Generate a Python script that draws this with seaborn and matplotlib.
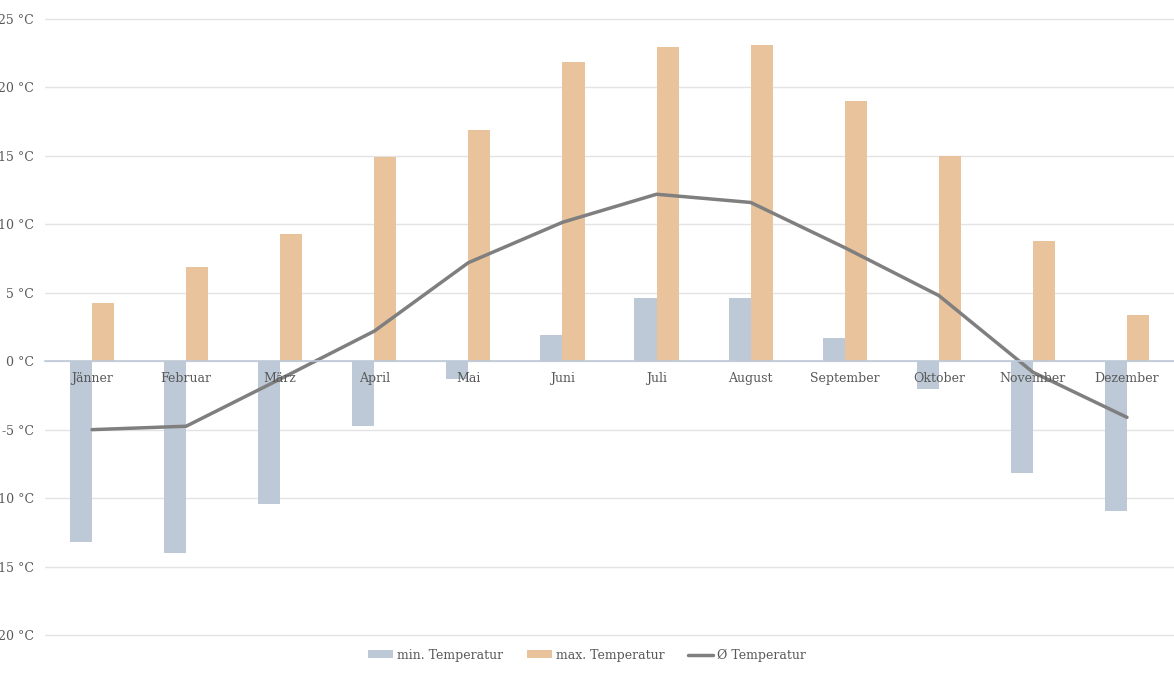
import numpy as np
import pandas as pd
import matplotlib
matplotlib.use("Agg")
import matplotlib.pyplot as plt
import seaborn as sns
from matplotlib.patches import Patch
from matplotlib.lines import Line2D

months = ["Jänner", "Februar", "März", "April", "Mai", "Juni", "Juli",
          "August", "September", "Oktober", "November", "Dezember"]
min_temp = [-13.2, -14.0, -10.45, -4.7, -1.3, 1.9, 4.6, 4.6, 1.7, -2.0, -8.2, -10.95]
max_temp = [4.25, 6.9, 9.3, 14.9, 16.9, 21.85, 22.95, 23.1, 19.0, 15.0, 8.8, 3.4]
avg_temp = [-5.0, -4.75, -1.3, 2.2, 7.2, 10.15, 12.2, 11.6, 8.3, 4.8, -0.8, -4.1]
yticks = [-20, -15, -10, -5, 0, 5, 10, 15, 20, 25]
series_names = ["min. Temperatur", "max. Temperatur", "Ø Temperatur"]

c_min = "#BDC9D7"
c_max = "#E9C39C"
c_avg = "#7F7F7F"
txt = "#595959"

sns.set_theme(style="white")
plt.rcParams["font.family"] = ["DejaVu Serif", "DejaVu Sans"]

df = pd.DataFrame({
    "Monat": months * 2,
    "Wert": min_temp + max_temp,
    "Serie": [series_names[0]] * 12 + [series_names[1]] * 12,
})

fig = plt.figure(figsize=(11.74, 6.75), dpi=100)
ax = fig.add_axes([45 / 1174, 38 / 675, 1 - 45 / 1174, (637 - 17) / 675])

sns.barplot(data=df, x="Monat", y="Wert", hue="Serie", order=months,
            hue_order=series_names[:2], palette=[c_min, c_max],
            width=0.47, gap=0, dodge=True, saturation=1, ax=ax,
            legend=False, linewidth=0, err_kws={"linewidth": 0})
sns.lineplot(x=np.arange(len(months)), y=avg_temp, color=c_avg,
             linewidth=2.5, ax=ax, legend=False)

ax.set_xlim(-0.5, 11.5)
ax.set_ylim(-20.15, 25.15)
ax.set_yticks(yticks)
ax.set_yticklabels([f"{v} °C" for v in yticks], color=txt, fontsize=9)
ax.yaxis.grid(True, color="#E3E3E3", linewidth=1)
ax.set_axisbelow(True)
ax.xaxis.set_zorder(5)
ax.tick_params(axis="y", length=0, pad=8)
ax.tick_params(axis="x", length=0, pad=8, labelsize=9, labelcolor=txt)
ax.set_xlabel("")
ax.set_ylabel("")
for s in ["top", "right", "left"]:
    ax.spines[s].set_visible(False)
ax.spines["bottom"].set_position(("data", 0))
ax.spines["bottom"].set_color(c_min)
ax.spines["bottom"].set_linewidth(1.2)

handles = [Patch(facecolor=c_min, edgecolor="none"),
           Patch(facecolor=c_max, edgecolor="none"),
           Line2D([0], [0], color=c_avg, linewidth=2.5)]
fig.legend(handles, series_names, loc="center", ncol=3,
           bbox_to_anchor=(0.5, 1 - 655 / 675), frameon=False,
           fontsize=9, labelcolor=txt, handlelength=2.0, handleheight=0.55,
           handletextpad=0.3, columnspacing=1.9)

fig.savefig("out.png", dpi=100, facecolor="white")
